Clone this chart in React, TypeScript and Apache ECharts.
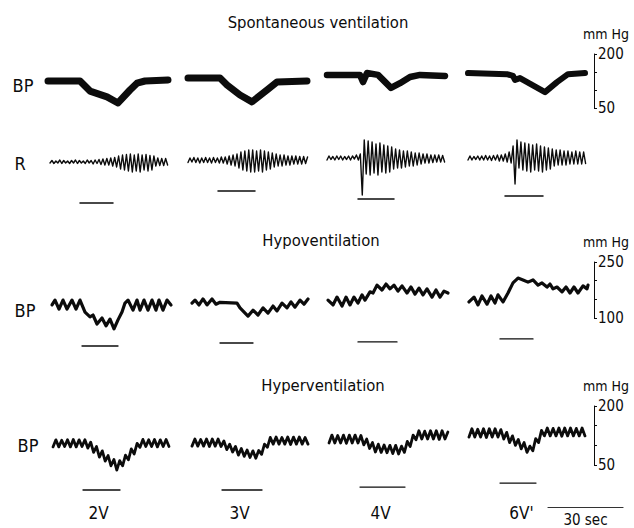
import React, { useEffect, useRef } from 'react';
import * as echarts from 'echarts';

// ---------- texts ----------
const sectionTitles = ['Spontaneous ventilation', 'Hypoventilation', 'Hyperventilation'];
const rowLabels = ['BP', 'R', 'BP', 'BP'];
const doses = ['2V', '3V', '4V', "6V'"];
const pressureUnit = 'mm Hg';
const timeBarLabel = '30 sec';
const timeBarSec = 30;

// pressure calibration ranges (mmHg) for the three BP rows
const spontRange = [50, 200];
const hypoRange = [100, 250];
const hyperRange = [50, 200];

// ---------- data: time (s from row origin), value ----------
// Spontaneous ventilation, blood pressure (mmHg)
const spontBP1 = [[1.6, 125], [14.4, 125], [18.4, 97], [25.2, 81], [29.6, 64], [34.4, 100], [37.2, 119], [40.4, 125], [49.6, 128]];
const spontBP2 = [[57.6, 133], [70.4, 133], [73.2, 114], [78.4, 86], [83.2, 67], [89.2, 100], [93.2, 122], [105.2, 125]];
const spontBP3 = [[113.2, 142], [126.4, 142], [127.6, 122], [129.2, 147], [133.6, 142], [138.8, 106], [142.4, 119], [146.4, 136], [150.4, 142], [160.4, 139]];
const spontBP4 = [[169.6, 147], [185.2, 144], [187.6, 139], [188.4, 128], [190.4, 133], [200.4, 94], [205.2, 122], [209.6, 144], [216.4, 147]];

// Spontaneous ventilation, respiration (arbitrary units), sampled every half breath
const rStart = [2.4, 57.6, 113.2, 169.6];
const rStep = 0.784;
const resp1 = [-3, -0.5, -3.5, -1, -3, 0, -3.5, -0.5, -3, -1, -3.5, -0.5, -3, 0, -3.5, -0.5, -3, -1, -3.5, 0, -3, -0.5, -4, 0, -3.5, 0.5,
  -4.5, 1, -5, 1.5, -5, 2, -6, 2.5, -7,
  4, -9, 5, -10, 5.5, -11, 6, -12, 5, -11, 6, -12, 5, -10, 5.5, -11, 4.5, -10, 4,
  -6, 2, -5.5, 1.5, -5.5, 1.5, -5];
const resp2 = [-2.5, 2, -2, 2.5, -2.5, 2, -3, 2, -2.5, 2.5, -2.5, 2, -3, 2.5, -2.5, 2, -3, 3, -3, 3,
  -4, 4, -5, 5, -6, 6,
  -8, 8, -10, 9, -11, 10, -12, 10, -12, 9, -11, 10, -12, 9, -10, 8, -9, 7,
  -7, 6, -6, 5, -6, 5, -5, 4, -5, 4, -4, 4, -4, 3.5, -4, 3.5, -3.5, 3];
const resp3 = [0, 4, 0.5, 3.5, 0, 4, 0.5, 4, 0, 3.5, 0.5, 4, 0, 4,
  1, 5, 0, 6,
  -35, 20,
  -14, 19, -15, 18, -13, 16, -15, 17, -12, 15, -13, 14, -12, 13,
  -9, 11, -8, 10, -8, 9, -7, 9, -6, 8, -6, 7, -5, 7,
  -4, 6, -3, 6, -3, 5, -2.5, 5, -2, 5, -2, 4.5, -2];
const resp4 = [0, 4, 0, 3.5, 0.5, 4, 0, 4, 0, 4.5, 0, 4, -0.5, 4.5, 0, 5, -1, 5, -1,
  6, -2, 8, -3,
  14, -24,
  20, -8, 18, -10, 17, -11, 16, -12, 15, -10, 16, -11, 14, -12, 13, -10, 12, -9,
  11, -6, 10, -5, 10, -5, 9, -5, 9, -4, 8, -4, 9, -4, 8, -4, 8, -3.5];

// stimulus markers: [start s, end s, level]
const spontStim = [[14.4, 27.6, -43], [69.6, 84.4, -31], [125.6, 140, -39], [184.4, 199.6, -36]];

// Hypoventilation, blood pressure (mmHg)
const hypoBP1 = [[3.2, 135], [4.4, 148], [6.0, 124], [7.6, 148], [9.2, 124], [11.2, 148], [12.8, 124], [14.4, 148], [16.4, 116], [18.4, 103], [19.6, 108], [21.2, 84], [23.2, 100], [24.8, 79], [26.4, 97], [28.0, 71], [29.6, 95], [31.2, 116], [32.4, 140], [33.6, 148], [35.6, 121], [37.2, 148], [38.4, 121], [40.0, 148], [41.6, 121], [43.2, 148], [44.8, 121], [46.0, 148], [47.6, 121], [49.2, 148], [50.8, 135]];
const hypoBP2 = [[59.2, 140], [60.4, 148], [62.0, 135], [63.6, 151], [65.2, 135], [67.2, 151], [68.8, 137], [70.4, 142], [77.2, 140], [78.4, 127], [81.6, 105], [83.6, 121], [85.6, 108], [87.6, 127], [89.6, 113], [91.6, 132], [93.2, 119], [95.2, 140], [97.2, 127], [98.8, 143], [100.4, 129], [102.4, 148], [104.0, 137], [105.6, 151]];
const hypoBP3 = [[113.6, 148], [115.6, 135], [117.2, 156], [119.2, 132], [120.8, 156], [122.4, 135], [124.0, 156], [125.6, 140], [127.2, 162], [128.4, 148], [130.4, 170], [131.6, 167], [133.2, 188], [135.2, 175], [136.8, 191], [138.4, 178], [140.0, 188], [141.6, 172], [143.2, 186], [145.2, 167], [146.8, 183], [148.4, 164], [150.0, 180], [151.6, 162], [153.2, 178], [155.2, 156], [156.8, 175], [158.4, 156], [160.0, 172], [161.6, 167]];
const hypoBP4 = [[170.0, 143], [172.0, 156], [173.6, 135], [175.2, 159], [177.2, 137], [178.8, 159], [180.4, 140], [181.6, 162], [183.6, 143], [185.6, 167], [187.6, 194], [189.6, 207], [191.6, 202], [193.6, 196], [195.6, 202], [197.6, 188], [199.2, 194], [201.2, 183], [202.4, 191], [203.6, 178], [205.2, 183], [207.2, 170], [208.8, 183], [210.4, 167], [212.0, 183], [213.6, 167], [215.6, 186], [217.2, 178], [217.6, 188]];
const hypoStim = [[15.2, 29.6, 25], [70.4, 83.6, 33], [125.6, 141.2, 36], [182.4, 195.6, 44]];

// Hyperventilation, blood pressure (mmHg), sampled every half ventilator cycle
const hyperStart = [3.6, 59.2, 114, 170];
const hyperStep = 1.16;
const hyperBP1 = [96, 114, 96, 113, 97, 114, 96, 115, 96, 114, 97, 114,
  93, 108, 82, 97, 70, 86, 60, 74, 48, 64, 37, 61, 48, 75, 63, 91, 78, 105, 95,
  115, 97, 114, 97, 115, 96, 114, 97, 115, 97];
const hyperBP2 = [98, 116, 98, 115, 98, 116, 97, 116, 98, 116,
  97, 111, 89, 103, 83, 97, 75, 92, 72, 88, 69, 86, 67, 87, 77, 103, 95, 120,
  103, 121, 103, 120, 103, 121, 102, 121, 103, 121, 103, 120, 103];
const hyperBP3 = [106, 126, 106, 125, 106, 126, 105, 126, 106, 126, 106,
  125, 101, 116, 92, 107, 83, 103, 82, 101, 81, 100, 79, 100, 78, 98, 82, 110, 97, 126, 114,
  137, 116, 136, 116, 137, 116, 137, 115, 137, 116, 134];
const hyperBP4 = [121, 142, 121, 141, 121, 142, 120, 142, 121, 142, 121,
  140, 116, 133, 107, 124, 100, 115, 91, 107, 82, 98, 86, 117, 107, 138, 124,
  144, 124, 143, 124, 144, 123, 144, 124, 144, 124, 143, 124, 144, 124];
const hyperStim = [[15.6, 30.4, -13.5], [71.2, 87.2, -13.5], [126.4, 144.4, -6], [182.4, 196.8, 4]];

// ---------- presentation ----------
const INK = '#0c0c0c';
const FONT = '"DejaVu Sans Condensed", "Liberation Sans Narrow", "Roboto Condensed", "Arial Narrow", Roboto, sans-serif';
const ROW_SPAN = 220;

const sampled = (t0: number, dt: number, vals: number[]) => vals.map((v, i) => [+(t0 + i * dt).toFixed(3), v]);

const traceSeries = (ax: number, data: number[][], width: number) => ({
  type: 'line',
  xAxisIndex: ax,
  yAxisIndex: ax,
  data,
  symbol: 'none',
  showSymbol: false,
  clip: false,
  silent: true,
  lineStyle: { color: INK, width, join: 'round', cap: 'round' },
  emphasis: { disabled: true },
});

const stimSeries = (ax: number, stims: number[][], width: number) =>
  stims.map((s) => traceSeries(ax, [[s[0], s[2]], [s[1], s[2]]], width));

const calibAxis = (gridIndex: number, range: number[]) => ({
  gridIndex,
  type: 'value',
  min: range[0],
  max: range[1],
  interval: 50,
  position: 'right',
  axisLine: { show: true, onZero: false, lineStyle: { color: INK, width: 1 } },
  axisTick: { show: true, length: 3, lineStyle: { color: INK, width: 1 } },
  axisLabel: {
    show: true,
    margin: 4,
    color: INK,
    fontFamily: FONT,
    fontSize: 15,
    formatter: (v: number) => (v === range[0] || v === range[1] ? String(v) : ''),
  },
  splitLine: { show: false },
  name: pressureUnit,
  nameLocation: 'end',
  nameGap: 13,
  nameTextStyle: { color: INK, fontFamily: FONT, fontSize: 14, padding: [0, 0, 0, 24] },
});

const hiddenValueAxis = (gridIndex: number, min: number, max: number) => ({
  gridIndex,
  type: 'value',
  min,
  max,
  show: false,
});

const textTitle = (text: string, cx: number, cy: number, size: number) => ({
  text,
  left: cx,
  top: cy,
  textAlign: 'center',
  textVerticalAlign: 'middle',
  padding: 0,
  textStyle: { color: INK, fontFamily: FONT, fontSize: size, fontWeight: 'normal' },
});

export default function App() {
  const ref = useRef<HTMLDivElement>(null);

  useEffect(() => {
    if (!ref.current) return;
    const chart = echarts.init(ref.current, undefined, { renderer: 'svg' });

    const option = {
      animation: false,
      backgroundColor: '#ffffff',
      title: [
        textTitle(sectionTitles[0], 318, 22, 16.5),
        textTitle(sectionTitles[1], 321, 240, 16.5),
        textTitle(sectionTitles[2], 323, 385, 16.5),
        textTitle(rowLabels[0], 23, 85, 18),
        textTitle(rowLabels[1], 20, 163, 18),
        textTitle(rowLabels[2], 25, 310, 18),
        textTitle(rowLabels[3], 28, 445, 18),
      ],
      grid: [
        { left: 44, width: 550, top: 54, height: 54 },
        { left: 44, width: 550, top: 130, height: 80 },
        { left: 44, width: 550, top: 262, height: 56 },
        { left: 44, width: 550, top: 406, height: 59 },
        { left: 548, width: 75, top: 506, height: 1 },
        { left: 28, width: 564, top: 501, height: 1 },
      ],
      xAxis: [
        { gridIndex: 0, type: 'value', min: 0, max: ROW_SPAN, show: false },
        { gridIndex: 1, type: 'value', min: 0, max: ROW_SPAN, show: false },
        { gridIndex: 2, type: 'value', min: 0, max: ROW_SPAN, show: false },
        { gridIndex: 3, type: 'value', min: 0, max: ROW_SPAN, show: false },
        {
          gridIndex: 4,
          type: 'value',
          min: 0,
          max: timeBarSec,
          position: 'bottom',
          axisLine: { show: true, onZero: false, lineStyle: { color: '#333', width: 1.2 } },
          axisTick: { show: false },
          axisLabel: { show: false },
          splitLine: { show: false },
          name: timeBarLabel,
          nameLocation: 'middle',
          nameGap: 5,
          nameTextStyle: { color: INK, fontFamily: FONT, fontSize: 15 },
        },
        {
          gridIndex: 5,
          type: 'category',
          data: doses,
          boundaryGap: true,
          position: 'bottom',
          axisLine: { show: false },
          axisTick: { show: false },
          axisLabel: { color: INK, fontFamily: FONT, fontSize: 17, margin: 2 },
          splitLine: { show: false },
        },
      ],
      yAxis: [
        calibAxis(0, spontRange),
        hiddenValueAxis(1, -50, 30),
        calibAxis(2, hypoRange),
        calibAxis(3, hyperRange),
        hiddenValueAxis(4, 0, 1),
        hiddenValueAxis(5, 0, 1),
      ],
      series: [
        traceSeries(0, spontBP1, 7),
        traceSeries(0, spontBP2, 7),
        traceSeries(0, spontBP3, 6.5),
        traceSeries(0, spontBP4, 6),
        traceSeries(1, sampled(rStart[0], rStep, resp1), 1.4),
        traceSeries(1, sampled(rStart[1], rStep, resp2), 1.4),
        traceSeries(1, sampled(rStart[2], rStep, resp3), 1.4),
        traceSeries(1, sampled(rStart[3], rStep, resp4), 1.4),
        ...stimSeries(1, spontStim, 1.5),
        traceSeries(2, hypoBP1, 3.2),
        traceSeries(2, hypoBP2, 3.2),
        traceSeries(2, hypoBP3, 3.2),
        traceSeries(2, hypoBP4, 3.2),
        ...stimSeries(2, hypoStim, 1.3),
        traceSeries(3, sampled(hyperStart[0], hyperStep, hyperBP1), 2.8),
        traceSeries(3, sampled(hyperStart[1], hyperStep, hyperBP2), 2.8),
        traceSeries(3, sampled(hyperStart[2], hyperStep, hyperBP3), 2.8),
        traceSeries(3, sampled(hyperStart[3], hyperStep, hyperBP4), 2.8),
        ...stimSeries(3, hyperStim, 1.3),
      ],
    };

    chart.setOption(option as any);
    return () => chart.dispose();
  }, []);

  return (
    <div
      ref={ref}
      style={{ position: 'fixed', left: 0, top: 0, width: 634, height: 528, background: '#fff' }}
    />
  );
}
